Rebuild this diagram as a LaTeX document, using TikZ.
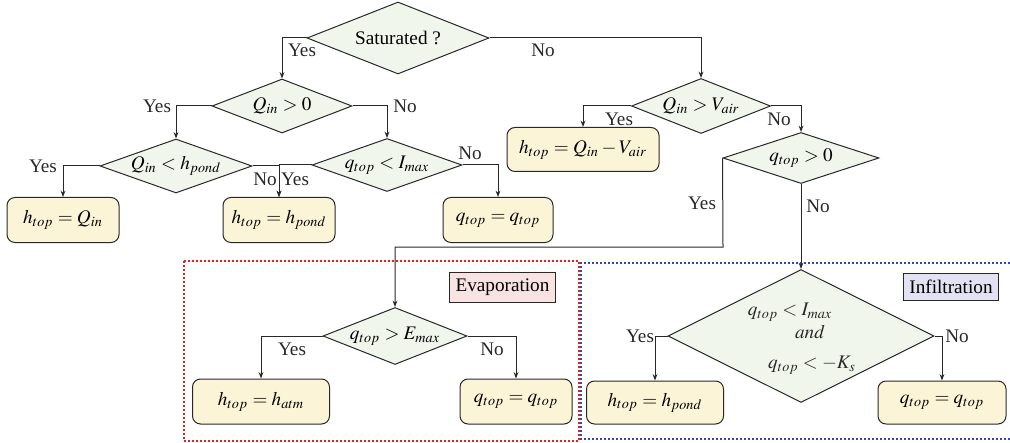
\documentclass[tikz,border=0pt]{standalone}
\usepackage{mathptmx}
\usepackage{fontspec}
\setmainfont{Liberation Serif}
\usetikzlibrary{shapes.geometric,arrows.meta,calc}
\definecolor{diafill}{RGB}{241,246,237}
\definecolor{boxfill}{RGB}{252,244,214}
\definecolor{evapfill}{RGB}{249,226,226}
\definecolor{inffill}{RGB}{226,226,242}
\definecolor{dotred}{RGB}{235,30,30}
\definecolor{dotblue}{RGB}{50,70,190}
\definecolor{ink}{RGB}{40,40,40}
\begin{document}
\begin{tikzpicture}[x=0.5pt,y=-0.5pt,
  font=\fontsize{9.6}{11.5}\selectfont,
  dia/.style={shape=diamond, draw=ink, fill=diafill, inner sep=0pt, line width=0.5pt},
  res/.style={rectangle, rounded corners=4pt, draw=ink, fill=boxfill, inner sep=0pt, line width=0.5pt},
  tagbox/.style={rectangle, draw=ink, inner sep=0pt, line width=0.5pt},
  arr/.style={-{Stealth[length=3.2pt,width=2.4pt]}, line width=0.5pt, draw=ink},
  lbl/.style={inner sep=0pt, text=ink},
  region/.style={line width=1pt, dash pattern=on 1pt off 1pt}]
\useasboundingbox (0,0) rectangle (1010,443);
% regions
\draw[region, draw=dotred] (184,261) rectangle (579,441);
\draw[region, draw=dotblue] (1014,263) -- (581,263) -- (581,439) -- (1014,439);
\node[tagbox, fill=evapfill, minimum width=53pt, minimum height=15pt] (evap) at (502.5,287) {Evaporation};
\node[tagbox, fill=inffill, minimum width=47.5pt, minimum height=13.5pt] (inf) at (951,287) {Infiltration};
% decisions
\node[dia, minimum width=91pt, minimum height=36pt, aspect=2.5] (sat) at (398,38) {Saturated ?};
\node[dia, minimum width=70pt, minimum height=27pt, aspect=2.6] (q0) at (282,106) {$Q_{in}>0$};
\node[dia, minimum width=76pt, minimum height=27pt, aspect=2.8] (qh) at (176,166) {$Q_{in}<h_{pond}$};
\node[dia, minimum width=75pt, minimum height=26.5pt, aspect=2.83] (qi) at (387,165) {$q_{top}<I_{max}$};
\node[dia, minimum width=69.5pt, minimum height=27.5pt, aspect=2.53] (vair) at (701,106) {$Q_{in}>V_{air}$};
\node[dia, minimum width=78pt, minimum height=25.5pt, aspect=3.06] (qp) at (801,158) {$q_{top}>0$};
\node[dia, minimum width=72pt, minimum height=28.5pt, aspect=2.53] (emax) at (395,336) {$q_{top}>E_{max}$};
\node[dia, minimum width=133pt, minimum height=66.5pt, aspect=2] (big) at (801,336) {};
\node[lbl] (bt1) at (790,312) {$q_{top}<I_{max}$};
\node[lbl] (bt2) at (810,332) {$and$};
\node[lbl] (bt3) at (812,365) {$q_{top}<-K_s$};
% results
\node[res, minimum width=56pt, minimum height=22.5pt] (b1) at (63,220) {$h_{top}=Q_{in}$};
\node[res, minimum width=56pt, minimum height=22.5pt] (b2) at (279,220) {$h_{top}=h_{pond}$};
\node[res, minimum width=55pt, minimum height=22.5pt] (b3) at (498,220) {$q_{top}=q_{top}$};
\node[res, minimum width=76pt, minimum height=22pt] (b4) at (583,149.5) {$h_{top}=Q_{in}-V_{air}$};
\node[res, minimum width=68.5pt, minimum height=22.5pt] (b5) at (261,401.5) {$h_{top}=h_{atm}$};
\node[res, minimum width=56pt, minimum height=22.5pt] (b6) at (516,401.5) {$q_{top}=q_{top}$};
\node[res, minimum width=68.5pt, minimum height=21.5pt] (b7) at (655,402.5) {$h_{top}=h_{pond}$};
\node[res, minimum width=64pt, minimum height=21.5pt] (b8) at (942,402.5) {$q_{top}=q_{top}$};
% connectors
\coordinate (bend) at (723,247);
\draw[arr] (sat.west) -| (q0.north);
\draw[arr] (sat.east) -| (vair.north);
\draw[arr] (q0.west) -| (qh.north);
\draw[arr] (q0.east) -| (qi.north);
\draw[arr] (qh.west) -| (b1.north);
\draw[arr] (qh.east) -| (b2.north);
\draw[arr] (qi.west) -| (b2.north);
\draw[arr] (qi.east) -| (b3.north);
\draw[arr] (vair.west) -| (b4.north);
\draw[arr] (vair.east) -| (qp.north);
\draw[arr] (qp.west) -- (bend) -| (emax.north);
\draw[arr] (qp.south) -- (big.north);
\draw[arr] (emax.west) -| (b5.north);
\draw[arr] (emax.east) -| (b6.north);
\draw[arr] (big.west) -| (b7.north);
\draw[arr] (big.east) -| (b8.north);
% labels
\node[lbl] (l1) at (302,50) {Yes};
\node[lbl] (l2) at (543,50) {No};
\node[lbl] (l3) at (157,106) {Yes};
\node[lbl] (l4) at (405,106) {No};
\node[lbl] (l5) at (43,166) {Yes};
\node[lbl] (l6) at (265,179) {No};
\node[lbl] (l7) at (295,179) {Yes};
\node[lbl] (l8) at (470,153) {No};
\node[lbl] (l9) at (619,119) {Yes};
\node[lbl] (l10) at (779,119) {No};
\node[lbl] (l11) at (702,203) {Yes};
\node[lbl] (l12) at (818,206) {No};
\node[lbl] (l13) at (292,349) {Yes};
\node[lbl] (l14) at (492,349) {No};
\node[lbl] (l15) at (640,336) {Yes};
\node[lbl] (l16) at (957,336) {No};
\end{tikzpicture}
\end{document}
